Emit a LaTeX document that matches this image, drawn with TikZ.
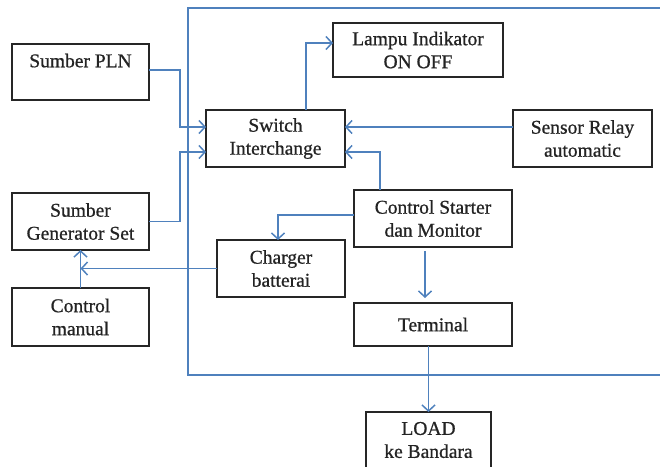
\documentclass[tikz,border=0pt]{standalone}
\usepackage{fontspec}
\setmainfont{Liberation Serif}[FakeBold=0.8]
\usetikzlibrary{arrows.meta}
\definecolor{lineblue}{RGB}{79,129,189}
\definecolor{txt}{RGB}{35,35,35}
\tikzset{
  blk/.style={draw=black!85, line width=1.9pt, inner sep=0pt, outer sep=0pt, align=center,
    text=txt, font=\fontsize{19.5}{23}\selectfont},
  arr/.style={draw=lineblue, line width=1.8pt, -{Straight Barb[length=6pt,width=13pt,line width=1.5pt]}},
  ln/.style={draw=lineblue, line width=1.8pt}
}
\begin{document}
\begin{tikzpicture}[x=1pt,y=-1pt]
\useasboundingbox (0,0) rectangle (660,466);
% outer open frame
\coordinate (ftr) at (662,8);
\coordinate (ftl) at (188,8);
\coordinate (fbl) at (188,375);
\coordinate (fbr) at (662,375);
\draw[ln] (ftr) -- (ftl) -- (fbl) -- (fbr);
% boxes
\node[blk, minimum width=137pt, minimum height=56pt] (pln) at (80.5,72) {Sumber PLN\\~};
\node[blk, minimum width=139pt, minimum height=57pt] (sw) at (275.5,138.5) {Switch\\Interchange};
\node[blk, minimum width=170pt, minimum height=54pt] (lampu) at (418,50) {Lampu Indikator\\ON OFF};
\node[blk, minimum width=139pt, minimum height=57pt] (sensor) at (582.5,138.5) {Sensor Relay\\automatic};
\node[blk, minimum width=158pt, minimum height=57pt] (cs) at (433,218.5) {Control Starter\\dan Monitor};
\node[blk, minimum width=137pt, minimum height=57pt] (gen) at (80.5,221.5) {Sumber\\Generator Set};
\node[blk, minimum width=128pt, minimum height=57pt] (charger) at (281,268.5) {Charger\\batterai};
\node[blk, minimum width=137pt, minimum height=58pt] (manual) at (80.5,317) {Control\\manual};
\node[blk, minimum width=158pt, minimum height=43pt] (terminal) at (433,324.5) {Terminal};
\node[blk, minimum width=125pt, minimum height=56pt] (load) at (428.5,440) {LOAD\\ke Bandara};
% connectors
\draw[arr] ([yshift=2pt]pln.east) -- ++(31,0) |- ([yshift=11.5pt]sw.west);
\draw[arr] (gen.east) -- ++(31,0) |- ([yshift=-13.5pt]sw.west);
\draw[arr] ([xshift=30.5pt]sw.north) |- ([yshift=7pt]lampu.west);
\draw[arr] ([yshift=11.5pt]sensor.west) -- ([yshift=11.5pt]sw.east);
\draw[arr] ([xshift=-53pt]cs.north) |- ([yshift=-13.5pt]sw.east);
\draw[arr] ([yshift=3.5pt]cs.west) -| ([xshift=-3pt]charger.north);
\draw[arr] (charger.west) -- (manual.north |- charger.west);
\draw[arr] (manual.north) -- (gen.south);
\draw[arr] ([xshift=-8pt,yshift=-4pt]cs.south) -- ([xshift=-8pt,yshift=5pt]terminal.north);
\draw[arr] (load.north |- terminal.south) -- (load.north);
\end{tikzpicture}
\end{document}
